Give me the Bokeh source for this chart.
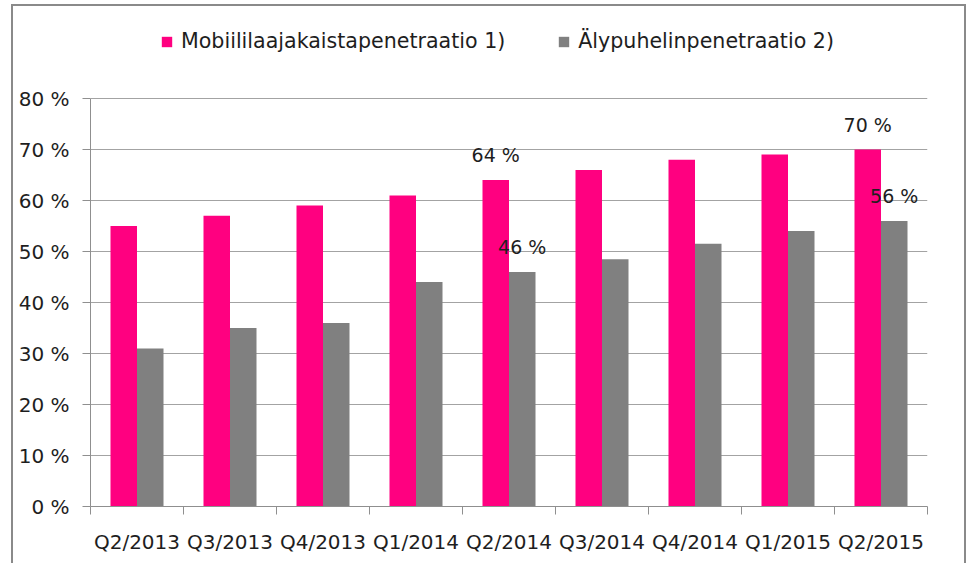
from bokeh.plotting import figure
from bokeh.models import (Range1d, FixedTicker, ColumnDataSource, Legend, LegendItem,
                          LabelSet)
from bokeh.core.properties import value
from bokeh.transform import dodge
from bokeh.embed import file_html
from bokeh.resources import INLINE

# ---- data ----
categories = ["Q2/2013", "Q3/2013", "Q4/2013", "Q1/2014", "Q2/2014",
              "Q3/2014", "Q4/2014", "Q1/2015", "Q2/2015"]
mobile_broadband = [55, 57, 59, 61, 64, 66, 68, 69, 70]
smartphone = [31, 35, 36, 44, 46, 48.5, 51.5, 54, 56]
series_names = ["Mobiililaajakaistapenetraatio 1)", "Älypuhelinpenetraatio 2)"]
y_ticks = [0, 10, 20, 30, 40, 50, 60, 70, 80]
labeled_idx = [4, 8]

PINK = "#FF0080"
GREY = "#808080"
AXIS = "#8f8f8f"
TEXT = "#1e1e1e"
FONT = "DejaVu Sans"

n = len(categories)
xc = [i + 0.5 for i in range(n)]
src = ColumnDataSource(dict(x=xc, cat=categories, mob=mobile_broadband, smart=smartphone))

# layout (pixels inside the canvas): frame from top 20 to 500, 80 % sits at 92
FRAME_TOP, AXIS_TOP, FRAME_BOTTOM = 20, 92, 500
y_top = y_ticks[-1] * (FRAME_BOTTOM - FRAME_TOP) / (FRAME_BOTTOM - AXIS_TOP)

p = figure(width=955, height=559, x_range=Range1d(0, n), y_range=Range1d(0, y_top),
           output_backend="svg", toolbar_location=None,
           min_border_left=77, min_border_right=41, min_border_top=FRAME_TOP,
           min_border_bottom=559 - FRAME_BOTTOM)
p.outline_line_color = None
p.background_fill_color = "white"
p.border_fill_color = "white"
p.styles = {"margin-left": "11px", "margin-top": "4px",
            "border-left": "2px solid #8a8a8a", "border-top": "2px solid #8a8a8a",
            "border-right": "2px solid #8a8a8a"}

bw = 0.285
off = bw / 2
r1 = p.vbar(x=dodge("x", -off, range=p.x_range), top="mob", width=bw, source=src,
            fill_color=PINK, line_color=None)
r2 = p.vbar(x=dodge("x", off, range=p.x_range), top="smart", width=bw, source=src,
            fill_color=GREY, line_color=None)

# x axis: labels at centres, ticks at category boundaries
p.xaxis.ticker = FixedTicker(ticks=xc, minor_ticks=list(range(n + 1)))
p.xaxis.major_label_overrides = {x: c for x, c in zip(xc, categories)}
p.xaxis.major_tick_out = 0
p.xaxis.major_tick_in = 0
p.xaxis.minor_tick_out = 8
p.xaxis.minor_tick_in = 0
p.xaxis.minor_tick_line_color = AXIS
p.xaxis.axis_line_color = AXIS
p.xaxis.major_label_standoff = 15
p.xaxis.major_label_text_font = FONT
p.xaxis.major_label_text_font_size = "20px"
p.xaxis.major_label_text_color = TEXT

# y axis (line limited to 0..80 %)
p.yaxis.ticker = FixedTicker(ticks=y_ticks)
p.yaxis.bounds = (y_ticks[0], y_ticks[-1])
p.yaxis.major_label_overrides = {v: f"{v} %" for v in y_ticks}
p.yaxis.major_tick_out = 8
p.yaxis.major_tick_in = 0
p.yaxis.minor_tick_line_color = None
p.yaxis.major_tick_line_color = AXIS
p.yaxis.axis_line_color = AXIS
p.yaxis.major_label_standoff = 13
p.yaxis.major_label_text_font = FONT
p.yaxis.major_label_text_font_size = "20px"
p.yaxis.major_label_text_color = TEXT

p.xgrid.grid_line_color = None
p.ygrid.ticker = FixedTicker(ticks=y_ticks)
p.ygrid.grid_line_color = "#a3a3a3"
p.ygrid.grid_line_width = 1.2

# data labels
lab_src = ColumnDataSource(dict(
    x=[xc[i] for i in labeled_idx],
    mob=[mobile_broadband[i] for i in labeled_idx],
    smart=[smartphone[i] for i in labeled_idx],
    mob_t=[f"{mobile_broadband[i]:g} %" for i in labeled_idx],
    smart_t=[f"{smartphone[i]:g} %" for i in labeled_idx],
))
for col, txt, dx in (("mob", "mob_t", -off), ("smart", "smart_t", off)):
    p.add_layout(LabelSet(x=dodge("x", dx, range=p.x_range), y=col, text=txt, source=lab_src,
                          y_offset=25, text_align="center", text_baseline="middle",
                          text_font=value(FONT), text_font_size="19px", text_color=TEXT))

legend = Legend(items=[LegendItem(label=series_names[0], renderers=[r1]),
                       LegendItem(label=series_names[1], renderers=[r2])],
                location=(70, 453), orientation="horizontal",
                glyph_width=13, glyph_height=13, label_standoff=8, spacing=52,
                padding=0, margin=0, border_line_color=None, background_fill_alpha=0,
                label_text_font=FONT, label_text_font_size="20.6px", label_text_color=TEXT)
p.add_layout(legend, "center")

open("out.html", "w").write(file_html(p, INLINE))
